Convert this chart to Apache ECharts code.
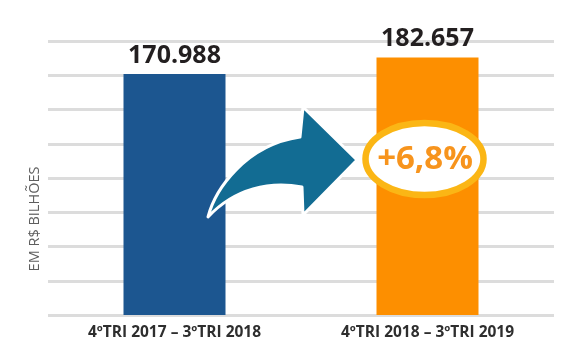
<!DOCTYPE html>
<html>
<head>
<meta charset="utf-8">
<script src="https://cdn.jsdelivr.net/npm/echarts@6/dist/echarts.min.js"></script>
<style>
html,body{margin:0;padding:0;background:#fff;}
#c{width:575px;height:358px;}
</style>
</head>
<body>
<div id="c"></div>
<script>
const categories = ['4ºTRI 2017 – 3ºTRI 2018', '4ºTRI 2018 – 3ºTRI 2019'];
const values = [170.988, 182.657];
const valueLabels = ['170.988', '182.657'];
const growthLabel = '+6,8%';
const axisName = 'EM R$ BILHÕES';
const yMin = 0, yMax = 194.4, yInterval = 24.3;

const barColors = ['#1c5690', '#fd8f00'];
const chart = echarts.init(document.getElementById('c'), null, {renderer: 'canvas'});

function renderAnnotation(params, api) {
  return {
    type: 'group',
    children: [
      {
        type: 'path',
        shape: {pathData: 'M 208 217 C 215 190, 245 145, 300 137 L 303 107 L 357 160 L 303 215 L 302 187 C 270 181, 235 188, 208 217 Z'},
        style: {fill: '#126c93', stroke: '#ffffff', lineWidth: 3, lineJoin: 'round'}
      },
      {
        type: 'path',
        shape: {pathData: 'M 365.5 159 A 59 36 0 1 0 483.5 159 A 59 36 0 1 0 365.5 159 Z'},
        style: {fill: '#ffffff', stroke: '#fbb615', lineWidth: 6.5}
      },
      {
        type: 'text',
        x: 425, y: 160,
        style: {text: growthLabel, fill: '#f7941d', font: 'bold 33px "Open Sans"', textAlign: 'center', textVerticalAlign: 'middle'}
      }
    ]
  };
}

chart.setOption({
  animation: false,
  backgroundColor: '#ffffff',
  grid: {left: 48, right: 21, top: 41, bottom: 43},
  xAxis: {
    type: 'category',
    data: categories,
    axisLine: {show: false},
    axisTick: {show: false},
    axisLabel: {margin: 10, fontFamily: 'Open Sans', fontWeight: 'bold', fontSize: 15.5, color: '#2e2e2e'}
  },
  yAxis: {
    type: 'value',
    min: yMin, max: yMax, interval: yInterval,
    axisLine: {show: false},
    axisTick: {show: false},
    axisLabel: {show: false},
    splitLine: {lineStyle: {color: '#dcdcdc', width: 3}}
  },
  series: [{
    type: 'bar',
    data: values,
    barWidth: 102,
    itemStyle: {color: p => barColors[p.dataIndex]},
    label: {
      show: true,
      position: 'top',
      distance: 6,
      formatter: p => valueLabels[p.dataIndex],
      fontFamily: 'Open Sans',
      fontWeight: 'bold',
      fontSize: 25,
      color: '#231f20'
    }
  }, {
    type: 'custom',
    silent: true,
    z: 10,
    data: [[0, 0]],
    renderItem: renderAnnotation
  }],
  graphic: [
    {
      type: 'text', z: 101,
      x: 35, y: 219, rotation: Math.PI / 2,
      style: {text: axisName, fill: '#5e5e5e', font: '14.5px "Open Sans"', textAlign: 'center', textVerticalAlign: 'middle'}
    }
  ]
});
</script>
</body>
</html>
